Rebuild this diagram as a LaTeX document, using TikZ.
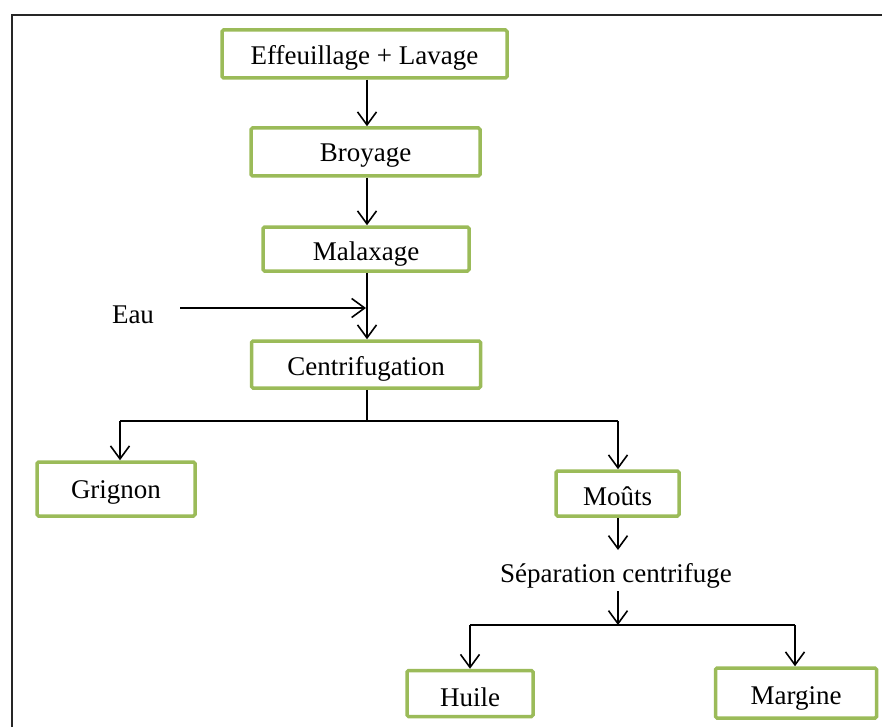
\documentclass[tikz,border=0pt]{standalone}
\usepackage{fontspec}
\setmainfont{Liberation Serif}
\usetikzlibrary{arrows.meta}
\definecolor{boxgreen}{HTML}{9BBB59}
\begin{document}
\begin{tikzpicture}[x=1pt,y=-1pt,
  every node/.style={font=\fontsize{27}{30}\selectfont, text=black},
  stepbox/.style={draw=boxgreen, line width=3.5pt, rounded corners=1.5pt, inner sep=0pt, text height=19pt, text depth=0pt},
  freetext/.style={inner sep=0pt, text height=18pt, text depth=0pt},
  arr/.style={draw=black, line width=1.6pt, -{Straight Barb[length=13pt,width=19pt,line width=1.6pt]}},
  ln/.style={draw=black, line width=1.6pt}]
\useasboundingbox (0,0) rectangle (882,727);
% frame
\draw[line width=2.2pt, black!85] (12,727) -- (12,15) -- (882,15);
% boxes
\node[stepbox, text height=20.5pt, minimum width=285pt, minimum height=48pt] (eff) at (364.5,54) {Effeuillage + Lavage};
\node[stepbox, minimum width=229pt, minimum height=48pt] (bro) at (365.5,152) {Broyage};
\node[stepbox, text height=22pt, minimum width=206pt, minimum height=44pt] (mal) at (366,249) {Malaxage};
\node[stepbox, text height=22pt, minimum width=229pt, minimum height=47pt] (cen) at (366,364.5) {Centrifugation};
\node[stepbox, minimum width=158pt, minimum height=54pt] (gri) at (116,489) {Grignon};
\node[stepbox, text height=24pt, minimum width=123pt, minimum height=45pt] (mou) at (617.5,493.5) {Moûts};
\node[stepbox, text height=25pt, minimum width=126pt, minimum height=46pt] (hui) at (470,693.5) {Huile};
\node[stepbox, text height=22pt, minimum width=161pt, minimum height=50pt] (mar) at (796,693) {Margine};
% free texts
\node[freetext] (eau) at (133,314) {Eau};
\node[freetext] (sep) at (616,573.5) {Séparation centrifuge};
% helper coordinates
\coordinate (eauend) at (366,308);
\coordinate (eaustart) at (180,308);
\coordinate (j1) at (367,421);
\coordinate (j1l) at (120,421);
\coordinate (j1r) at (618,421);
\coordinate (mouend) at (618,550);
\coordinate (j2) at (618,625);
\coordinate (j2l) at (470,625);
\coordinate (j2r) at (795,625);
\coordinate (septop) at (618,591);
% connectors
\draw[arr] (eff.south -| 367,0) -- (bro.north -| 367,0);
\draw[arr] (bro.south -| 367,0) -- (mal.north -| 367,0);
\draw[arr] (mal.south -| 367,0) -- (cen.north -| 367,0);
\draw[arr] (eaustart) -- (eauend);
\draw[ln] (cen.south -| 367,0) -- (j1);
\draw[ln] (j1l) -- (j1r);
\draw[arr] (j1l) -- (gri.north -| j1l);
\draw[arr] (j1r) -- (mou.north -| j1r);
\draw[arr] (mou.south -| 618,0) -- (mouend);
\draw[arr] (septop) -- (j2);
\draw[ln] (j2l) -- (j2r);
\draw[arr] (j2l) -- (hui.north -| j2l);
\draw[arr] (j2r) -- (mar.north -| j2r);
\end{tikzpicture}
\end{document}
